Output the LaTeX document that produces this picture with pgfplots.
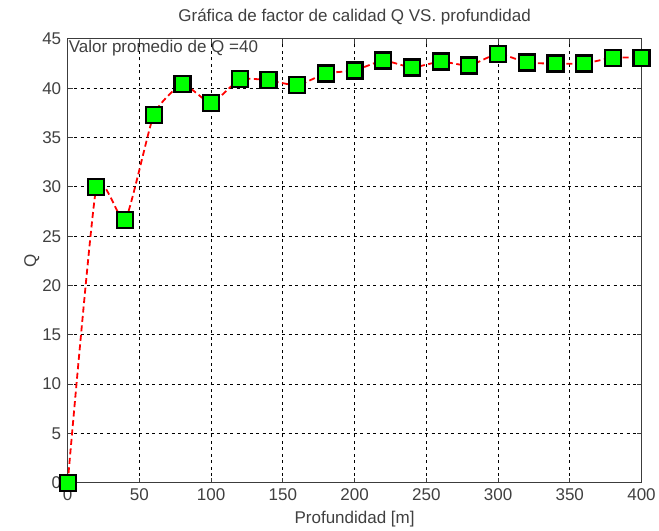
\documentclass[border={21pt 0pt 0pt 6pt}]{standalone}
\usepackage{pgfplots}
\pgfplotsset{compat=1.18}
\usepackage{fontspec}
\setmainfont{Liberation Sans}
\definecolor{mgreen}{RGB}{0,255,0}
\definecolor{axgray}{RGB}{60,60,60}
\begin{document}
\begin{tikzpicture}
\begin{axis}[
  scale only axis,
  width=574pt, height=444pt,
  xmin=0, xmax=400, ymin=0, ymax=45,
  xtick={0,50,...,400}, ytick={0,5,...,45},
  tick align=inside,
  major tick length=5pt,
  axis line style={axgray, line width=1.2pt},
  tick style={axgray, line width=0.8pt},
  grid=major,
  major grid style={black, line width=0.9pt, dash pattern=on 3pt off 3.5pt},
  /pgf/number format/assume math mode=true,
  ticklabel style={font=\fontsize{17}{20}\selectfont, text=black!75},
  label style={font=\fontsize{17}{20}\selectfont, text=black!75},
  title style={font=\fontsize{17}{20}\selectfont, text=black!75, yshift=4pt},
  title={Gráfica de factor de calidad Q VS. profundidad},
  xlabel={Profundidad [m]},
  ylabel={Q},
  xlabel style={yshift=-4pt},
  ylabel style={yshift=-4pt},
  xticklabel style={yshift=-2pt},
  yticklabel style={xshift=-3pt},
  clip=false,
]
\addplot[red, line width=1.8pt, dash pattern=on 6pt off 3.5pt, smooth, tension=0.3,
  mark=square*, mark size=8pt,
  mark options={solid, fill=mgreen, draw=black, line width=2.2pt}]
coordinates {
(0,0) (20,30.0) (40,26.6) (60,37.3) (80,40.4) (100,38.5) (120,40.9) (140,40.8)
(160,40.3) (180,41.5) (200,41.8) (220,42.8) (240,42.1) (260,42.7) (280,42.3)
(300,43.5) (320,42.6) (340,42.5) (360,42.5) (380,43.1) (400,43.1)
};
\node[anchor=north west, inner sep=1pt, font=\fontsize{17}{20}\selectfont, text=black!75]
  at (axis cs:0,45) {Valor promedio de Q =40};
\end{axis}
\end{tikzpicture}
\end{document}
